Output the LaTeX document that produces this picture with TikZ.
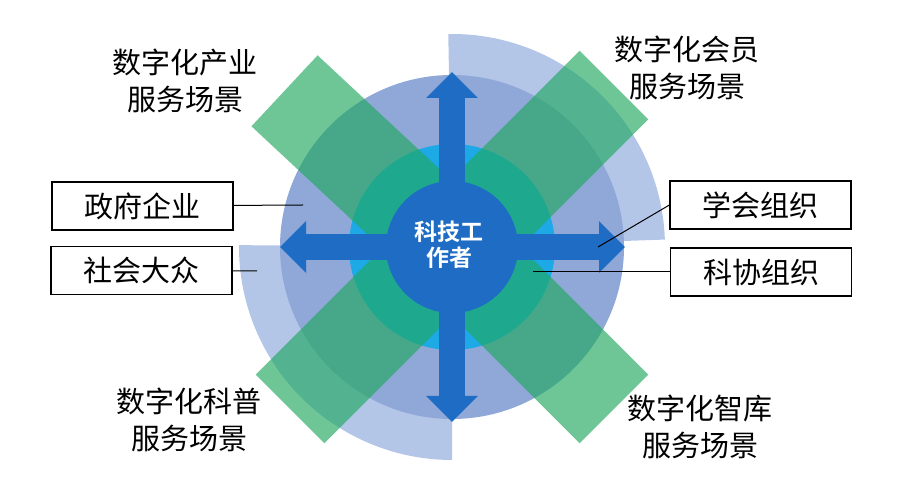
\documentclass[tikz,border=0pt]{standalone}
\usepackage{fontspec}
\setmainfont{Noto Sans CJK SC}[BoldFont={Noto Sans CJK SC Bold}]
\usetikzlibrary{arrows.meta}
\definecolor{outerring}{HTML}{B4C6E7}
\definecolor{midring}{HTML}{8FA8D8}
\definecolor{innerring}{HTML}{1CA9E6}
\definecolor{coreblue}{HTML}{1E6CC4}
\definecolor{bargreen}{HTML}{20A860}

\begin{document}
\begin{tikzpicture}[x=1pt,y=1pt,thick,
    box node/.style={draw,line width=1.2pt,fill=white,minimum width=181pt,minimum height=48pt,inner sep=0pt,font=\fontsize{29}{32}\selectfont},
    scene node/.style={align=center,font=\fontsize{29}{37}\selectfont},
    green bar/.style={fill=bargreen,opacity=0.65},
    big arrow/.style={draw=coreblue,line width=26pt,{Triangle[width=50pt,length=26pt]}-{Triangle[width=50pt,length=26pt]}}]
  \useasboundingbox (0,0) rectangle (916,495);
  \coordinate (c) at (452,248);

  % rings
  \fill[outerring] (c) -- +(2:213) arc (2:91:213) -- cycle;
  \fill[outerring] (c) -- +(179.5:213) arc (179.5:270:213) -- cycle;
  \fill[midring] (c) circle (172);
  \fill[innerring] (c) circle (103);

  % green bars
  \begin{scope}[shift={(c)}]
    \foreach \a in {45,137,225,315}
      \fill[green bar,rotate=\a] (0,-48.5) rectangle (229,48.5);
  \end{scope}
  \fill[coreblue] (c) circle (66);

  % arrows
  \coordinate (left) at (280,248);
  \coordinate (right) at (625,248);
  \coordinate (top) at (452,423);
  \coordinate (bottom) at (452,73);
  \draw[big arrow] (left) -- (right);
  \draw[big arrow] (bottom) -- (top);

  \node[align=center,text=white,font=\fontsize{23}{26}\selectfont\bfseries] (core) at (449,250) {科技工\\作者};

  % labels
  \node[box node] (gov) at (142.5,289) {政府企业};
  \node[box node] (pub) at (141.5,224.5) {社会大众};
  \node[box node] (soc) at (760.5,290) {学会组织};
  \node[box node] (cast) at (761,223) {科协组织};
  \coordinate (govEnd) at (303,290);
  \coordinate (pubEnd) at (257,224);
  \coordinate (socEnd) at (598,248);
  \coordinate (castEnd) at (533,223);

  \path[draw,line width=1pt]
    (gov) edge (govEnd)
    (pub) edge (pubEnd)
    (soc.west) edge (socEnd)
    (cast) edge (castEnd);

  \node[scene node] (ind) at (185,414) {数字化产业\\服务场景};
  \node[scene node] (mem) at (687,427.5) {数字化会员\\服务场景};
  \node[scene node] (sci) at (189,75.5) {数字化科普\\服务场景};
  \node[scene node] (tank) at (700,68.5) {数字化智库\\服务场景};
\end{tikzpicture}
\end{document}
